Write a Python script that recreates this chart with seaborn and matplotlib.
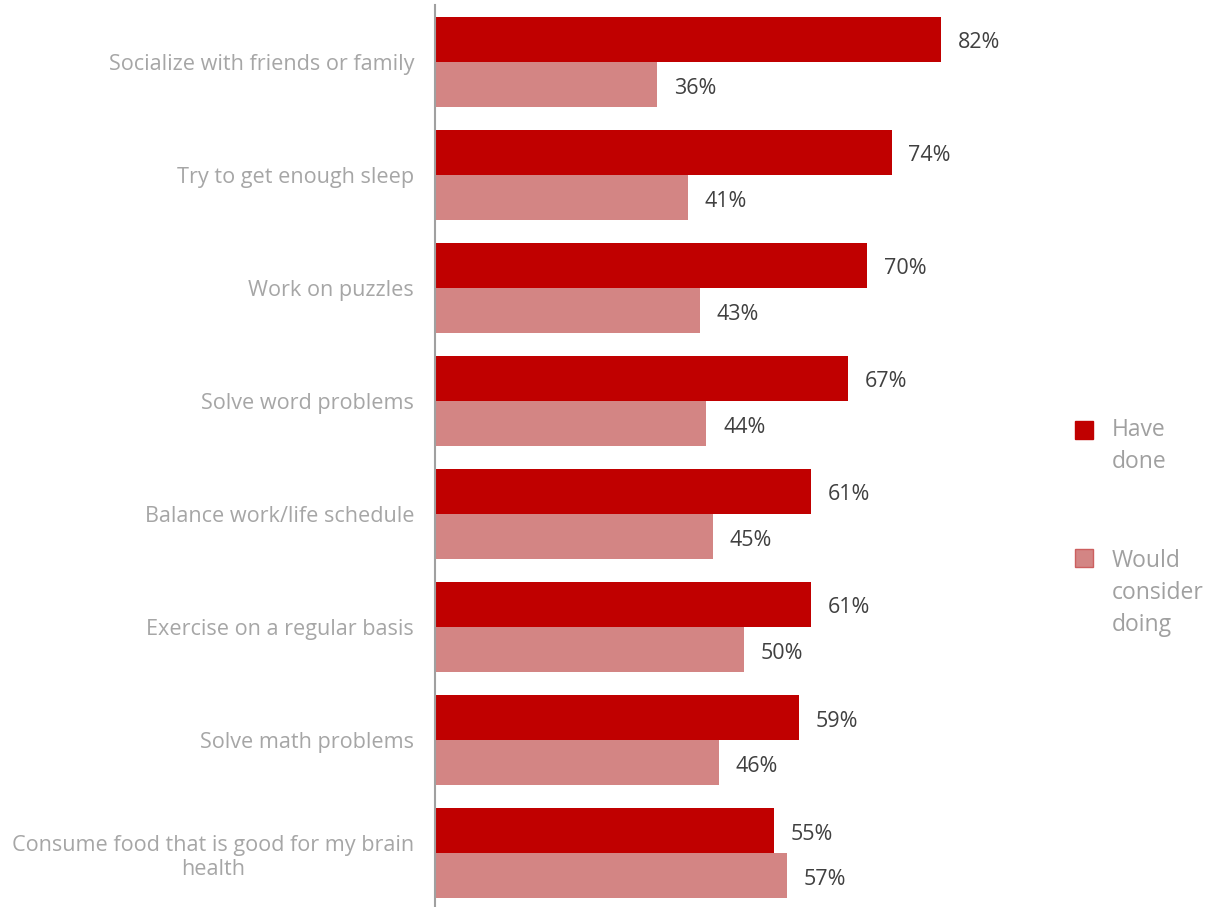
import matplotlib
matplotlib.use("Agg")
import matplotlib.pyplot as plt
import seaborn as sns
import pandas as pd
from matplotlib.patches import Rectangle

activities = [
    "Socialize with friends or family",
    "Try to get enough sleep",
    "Work on puzzles",
    "Solve word problems",
    "Balance work/life schedule",
    "Exercise on a regular basis",
    "Solve math problems",
    "Consume food that is good for my brain\nhealth",
]
have_done = [82, 74, 70, 67, 61, 61, 59, 55]
would_consider = [36, 41, 43, 44, 45, 50, 46, 57]
series_names = ["Have\ndone", "Would\nconsider\ndoing"]

dark_red = "#C00000"
light_red = "#D38584"

df = pd.DataFrame({
    "activity": activities * 2,
    "pct": have_done + would_consider,
    "series": [series_names[0]] * len(activities) + [series_names[1]] * len(activities),
})

sns.set_style("white")
plt.rcParams["font.family"] = ["Open Sans", "DejaVu Sans"]

W, H = 1213, 907
fig = plt.figure(figsize=(W / 100, H / 100), dpi=100)
ax = fig.add_axes([435 / W, -0.003, (1052 - 435) / W, 0.997])

sns.barplot(data=df, y="activity", x="pct", hue="series", orient="h",
            palette=[dark_red, light_red], width=0.8, saturation=1,
            linewidth=0, legend=False, ax=ax)

ax.set_xlim(0, 100)
ax.set_ylim(7.5, -0.5)
ax.set_xlabel("")
ax.set_ylabel("")
ax.set_xticks([])
for s in ["top", "right", "bottom"]:
    ax.spines[s].set_visible(False)
ax.spines["left"].set_color("#A0A0A0")
ax.spines["left"].set_linewidth(1.5)

ax.tick_params(axis="y", length=0, pad=15)
ax.set_yticks(range(len(activities)))
ax.set_yticklabels(activities, fontsize=15.6, color="#A6A6A6",
                   multialignment="center", linespacing=1.2)

for cont in ax.containers:
    texts = ax.bar_label(cont, labels=[f"{v:.0f}%" for v in cont.datavalues],
                         padding=12, fontsize=15.5, color="#404040")
    for t in texts:
        t.xyann = (12, -2.5)

# legend: square marker aligned with the first line of each label
legend_items = [
    (series_names[0], dark_red, dark_red, 430, 446),
    (series_names[1], light_red, "#CC5F5F", 558, 593),
]
for label, face, edge, ysq, ytxt in legend_items:
    fig.patches.append(Rectangle((1075 / W, 1 - (ysq + 9) / H), 18 / W, 18 / H,
                                 facecolor=face, edgecolor=edge, linewidth=1,
                                 transform=fig.transFigure, figure=fig))
    fig.text(1112 / W, 1 - ytxt / H, label, fontsize=16.5, color="#A0A0A0",
             va="center", ha="left", linespacing=1.45)

fig.savefig("out.png", dpi=100)
